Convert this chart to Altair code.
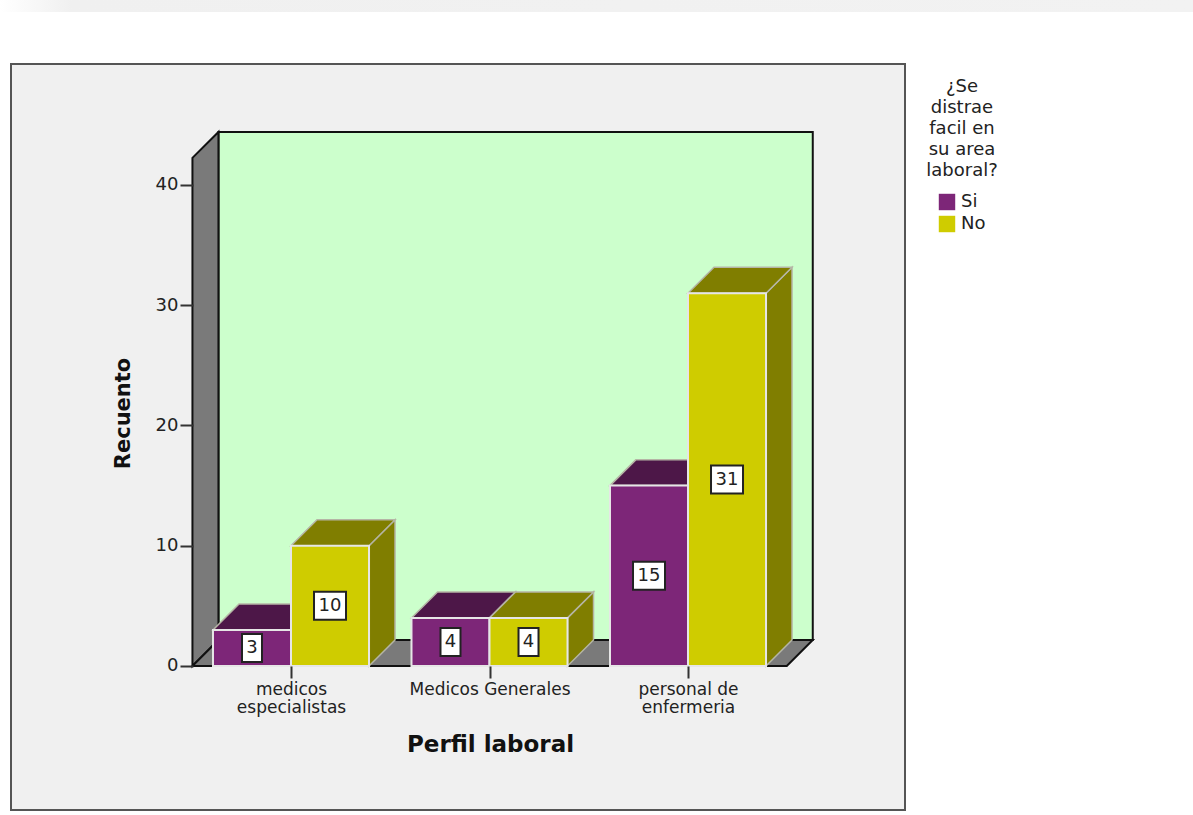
import json
import altair as alt
import pandas as pd

# Counts per job profile, split by the survey answer
categories = ["medicos\nespecialistas", "Medicos Generales", "personal de\nenfermeria"]
series_names = ["Si", "No"]
si_counts = [3, 4, 15]
no_counts = [10, 4, 31]
y_ticks = [0, 10, 20, 30, 40]
legend_title = ["¿Se", "distrae", "facil en", "su area", "laboral?"]

# Geometry of the pseudo-3D box, in axis units
BAR_W = 0.393
DX = 0.131
DY = 2.16
WALL_L, WALL_R = -0.4965, 2.4975
WALL_TOP = 42.25

FRONT = {"Si": "#7d2678", "No": "#cfcc00"}
SHADE = {"Si": "#4d1748", "No": "#807e00"}
FONT = "DejaVu Sans"
INK = "#222222"

W, H = 1193, 815
x_scale = alt.Scale(domain=[-1.466, 4.544], nice=False, zero=False)
y_scale = alt.Scale(domain=[-12.39, 55.38], nice=False, zero=False)

x_axis = alt.Axis(
    values=list(range(len(categories))),
    labelExpr=f"split({json.dumps(categories)}[datum.value], '\\n')",
    orient="bottom", offset=-149, domain=False, grid=False, zindex=1,
    tickSize=12, tickColor="#333333", tickWidth=2,
    labelFont=FONT, labelFontSize=17, labelColor=INK, labelLineHeight=18,
    labelPadding=3, labelOverlap=False, labelFlush=False, labelLimit=300,
    title="Perfil laboral", titleFont=FONT, titleFontSize=23, titleFontWeight="bold",
    titleColor="#111111", titleX=490, titleY=67,
)
y_axis = alt.Axis(
    values=y_ticks, orient="left", offset=-193, domain=False, grid=False, zindex=1,
    tickSize=13, tickColor="#333333", tickWidth=2,
    labelFont=FONT, labelFontSize=18, labelColor=INK, labelPadding=2,
    title="Recuento", titleFont=FONT, titleFontSize=21, titleFontWeight="bold",
    titleColor="#111111", titleX=-60, titleY=413,
)

fronts, sides, tops = [], [], []
for i in range(len(categories)):
    for s, (name, counts) in enumerate(zip(series_names, [si_counts, no_counts])):
        v = counts[i]
        left = i + (s - 1) * BAR_W
        right = left + BAR_W
        bar = f"{i}-{name}"
        fronts.append(dict(bar=bar, serie=name, left=left, right=right, mid=(left + right) / 2, v=v, half=v / 2))
        sides.append(dict(bar=bar, shade=SHADE[name], x=right, top=v, base=0))
        sides.append(dict(bar=bar, shade=SHADE[name], x=right + DX, top=v + DY, base=DY))
        tops.append(dict(bar=bar, shade=SHADE[name], y=v, x0=left, x1=right))
        tops.append(dict(bar=bar, shade=SHADE[name], y=v + DY, x0=left + DX, x1=right + DX))
fronts, sides, tops = map(pd.DataFrame, (fronts, sides, tops))

one = pd.DataFrame({"k": [0]})

# Screen-wide band along the top edge and the grey chart panel
band = alt.Chart(one).mark_rect(
    fill=alt.Gradient(
        gradient="linear", x1=0, x2=1, y1=0, y2=0,
        stops=[alt.GradientStop(color="#ffffff", offset=0),
               alt.GradientStop(color="#f0f0f0", offset=0.06),
               alt.GradientStop(color="#f2f2f2", offset=1)],
    )
).encode(x=alt.value(0), x2=alt.value(W), y=alt.value(0), y2=alt.value(12))

panel = alt.Chart(one).mark_rect(fill="#f0f0f0", stroke="#555555", strokeWidth=2).encode(
    x=alt.value(11), x2=alt.value(905), y=alt.value(64), y2=alt.value(810)
)

X = lambda f: alt.X(f, scale=x_scale, axis=x_axis)
Y = lambda f: alt.Y(f, scale=y_scale, axis=y_axis)

# Walls and floor of the box
back = alt.Chart(pd.DataFrame({"x": [WALL_L + DX], "x2": [WALL_R + DX], "y": [DY], "y2": [WALL_TOP + DY]})).mark_rect(
    fill="#ccffcc", stroke="#111111", strokeWidth=2
).encode(x=X("x:Q"), x2="x2:Q", y=Y("y:Q"), y2="y2:Q")

left_wall = alt.Chart(pd.DataFrame({
    "x": [WALL_L, WALL_L + DX], "top": [WALL_TOP, WALL_TOP + DY], "base": [0, DY]
})).mark_area(orient="vertical", fill="#7a7a7a", stroke="#111111", strokeWidth=2).encode(
    x=X("x:Q"),
    y=alt.Y("top:Q", scale=y_scale, axis=y_axis, stack=None),
    y2="base:Q",
)

floor = alt.Chart(pd.DataFrame({
    "y": [0, DY], "x0": [WALL_L, WALL_L + DX], "x1": [WALL_R, WALL_R + DX]
})).mark_area(orient="horizontal", fill="#7a7a7a", stroke="#111111", strokeWidth=2).encode(
    y=Y("y:Q"),
    x=alt.X("x0:Q", scale=x_scale, axis=x_axis, stack=None),
    x2="x1:Q",
)

# Bars: side faces, then top faces, then the front faces carrying the legend
side_faces = alt.Chart(sides).mark_area(orient="vertical", stroke="#b5b5a5", strokeWidth=1.5).encode(
    x=X("x:Q"),
    y=alt.Y("top:Q", scale=y_scale, axis=y_axis, stack=None),
    y2="base:Q",
    detail="bar:N",
    fill=alt.Fill("shade:N", scale=None),
)

top_faces = alt.Chart(tops).mark_area(orient="horizontal", stroke="#b5b5a5", strokeWidth=1.5).encode(
    y=Y("y:Q"),
    x=alt.X("x0:Q", scale=x_scale, axis=x_axis, stack=None),
    x2="x1:Q",
    detail="bar:N",
    fill=alt.Fill("shade:N", scale=None),
)

front_faces = alt.Chart(fronts).mark_rect(stroke="#e6e6e6", strokeWidth=2).encode(
    x=X("left:Q"),
    x2="right:Q",
    y=Y("v:Q"),
    y2=alt.Y2(datum=0),
    color=alt.Color(
        "serie:N",
        scale=alt.Scale(domain=series_names, range=[FRONT[n] for n in series_names]),
        legend=alt.Legend(
            title=legend_title, orient="none", legendX=926, legendY=78,
            titleFont=FONT, titleFontSize=18, titleFontWeight="normal", titleColor=INK,
            titleLineHeight=21, titleAlign="center", titleAnchor="middle", titleLimit=300, titlePadding=13,
            labelFont=FONT, labelFontSize=18, labelColor=INK, labelOffset=5,
            symbolType="square", symbolSize=270, symbolStrokeWidth=0, rowPadding=4, padding=0,
        ),
    ),
)

# White value boxes centred on each bar
def value_box(test, width):
    return alt.Chart(fronts).transform_filter(test).mark_rect(
        width=width, height=28, fill="#ffffff", stroke="#222222", strokeWidth=2
    ).encode(x=X("mid:Q"), y=Y("half:Q"))

box_small = value_box("datum.v < 10", 20)
box_wide = value_box("datum.v >= 10", 32)

value_text = alt.Chart(fronts).mark_text(font=FONT, fontSize=18, color=INK, baseline="middle").encode(
    x=X("mid:Q"),
    y=Y("half:Q"),
    text="v:Q",
)

chart = alt.layer(
    band, panel, back, left_wall, floor, side_faces, top_faces, front_faces, box_small, box_wide, value_text
).resolve_scale(fill="independent").properties(
    width=W, height=H, padding=0,
    autosize=alt.AutoSizeParams(type="none", contains="content"),
    background="#ffffff",
).configure_view(stroke=None)

chart.save("out.html", embed_options={"renderer": "svg", "actions": False})
